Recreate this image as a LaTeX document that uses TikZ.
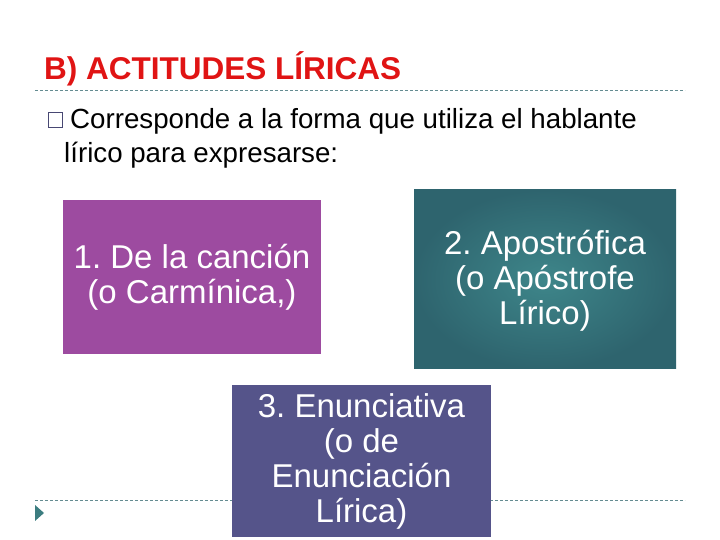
\documentclass[tikz,border=0pt]{standalone}
\usepackage{fontspec}
\setmainfont{Liberation Sans}
\definecolor{titlered}{RGB}{224,20,20}
\definecolor{dashcol}{RGB}{100,140,145}
\definecolor{boxpurple}{RGB}{157,75,160}
\definecolor{boxslate}{RGB}{85,84,138}
\definecolor{tealin}{RGB}{62,134,138}
\definecolor{tealout}{RGB}{46,100,110}
\definecolor{bulletcol}{RGB}{72,72,115}
\definecolor{tricol}{RGB}{60,125,128}
\tikzset{
  sepline/.style={dashcol,line width=0.8pt,dash pattern=on 3pt off 2pt},
  itembox/.style={inner sep=0pt,align=center,text=white,
    font=\frenchspacing\fontsize{33}{35}\selectfont},
}
\begin{document}
\begin{tikzpicture}[x=1pt,y=1pt]
\useasboundingbox (0,0) rectangle (720,540);
% title
\node[anchor=base west,inner sep=0pt,text=titlered,font=\bfseries\fontsize{31.5}{36}\selectfont] (title) at (44,460) {B) ACTITUDES LÍRICAS};
% separators
\coordinate (s1a) at (35,450);
\coordinate (s1b) at (685,450);
\draw[sepline] (s1a) -- (s1b);
\coordinate (s2a) at (35,40);
\coordinate (s2b) at (685,40);
\draw[sepline] (s2a) -- (s2b);
% bullet
\node[draw=bulletcol,line width=1.4pt,minimum width=14pt,minimum height=15pt,inner sep=0pt,anchor=south west] (bul) at (48,412) {};
\node[anchor=base west,inner sep=0pt,font=\fontsize{27.7}{34}\selectfont] (l1) at (70,411) {Corresponde a la forma que utiliza el hablante};
\node[anchor=base west,inner sep=0pt,font=\fontsize{27.7}{34}\selectfont] (l2) at (64,377) {lírico para expresarse:};
% triangle
\fill[tricol] (35,35) -- (44,27) -- (35,19) -- cycle;
% boxes
\node[itembox,fill=boxpurple,minimum width=258pt,minimum height=154pt] (b1) at (192,263) {1. De la canción\\(o Carmínica,)};
\shade[inner color=tealin,outer color=tealout] (414,171) rectangle (676,350);
\node[itembox,minimum width=262pt,minimum height=179pt] (b2) at (545,259.5) {2. Apostrófica\\(o Apóstrofe\\Lírico)};
\node[itembox,fill=boxslate,minimum width=259pt,minimum height=152pt] (b3) at (361.5,79) {3. Enunciativa\\(o de\\Enunciación\\Lírica)};
\end{tikzpicture}
\end{document}
